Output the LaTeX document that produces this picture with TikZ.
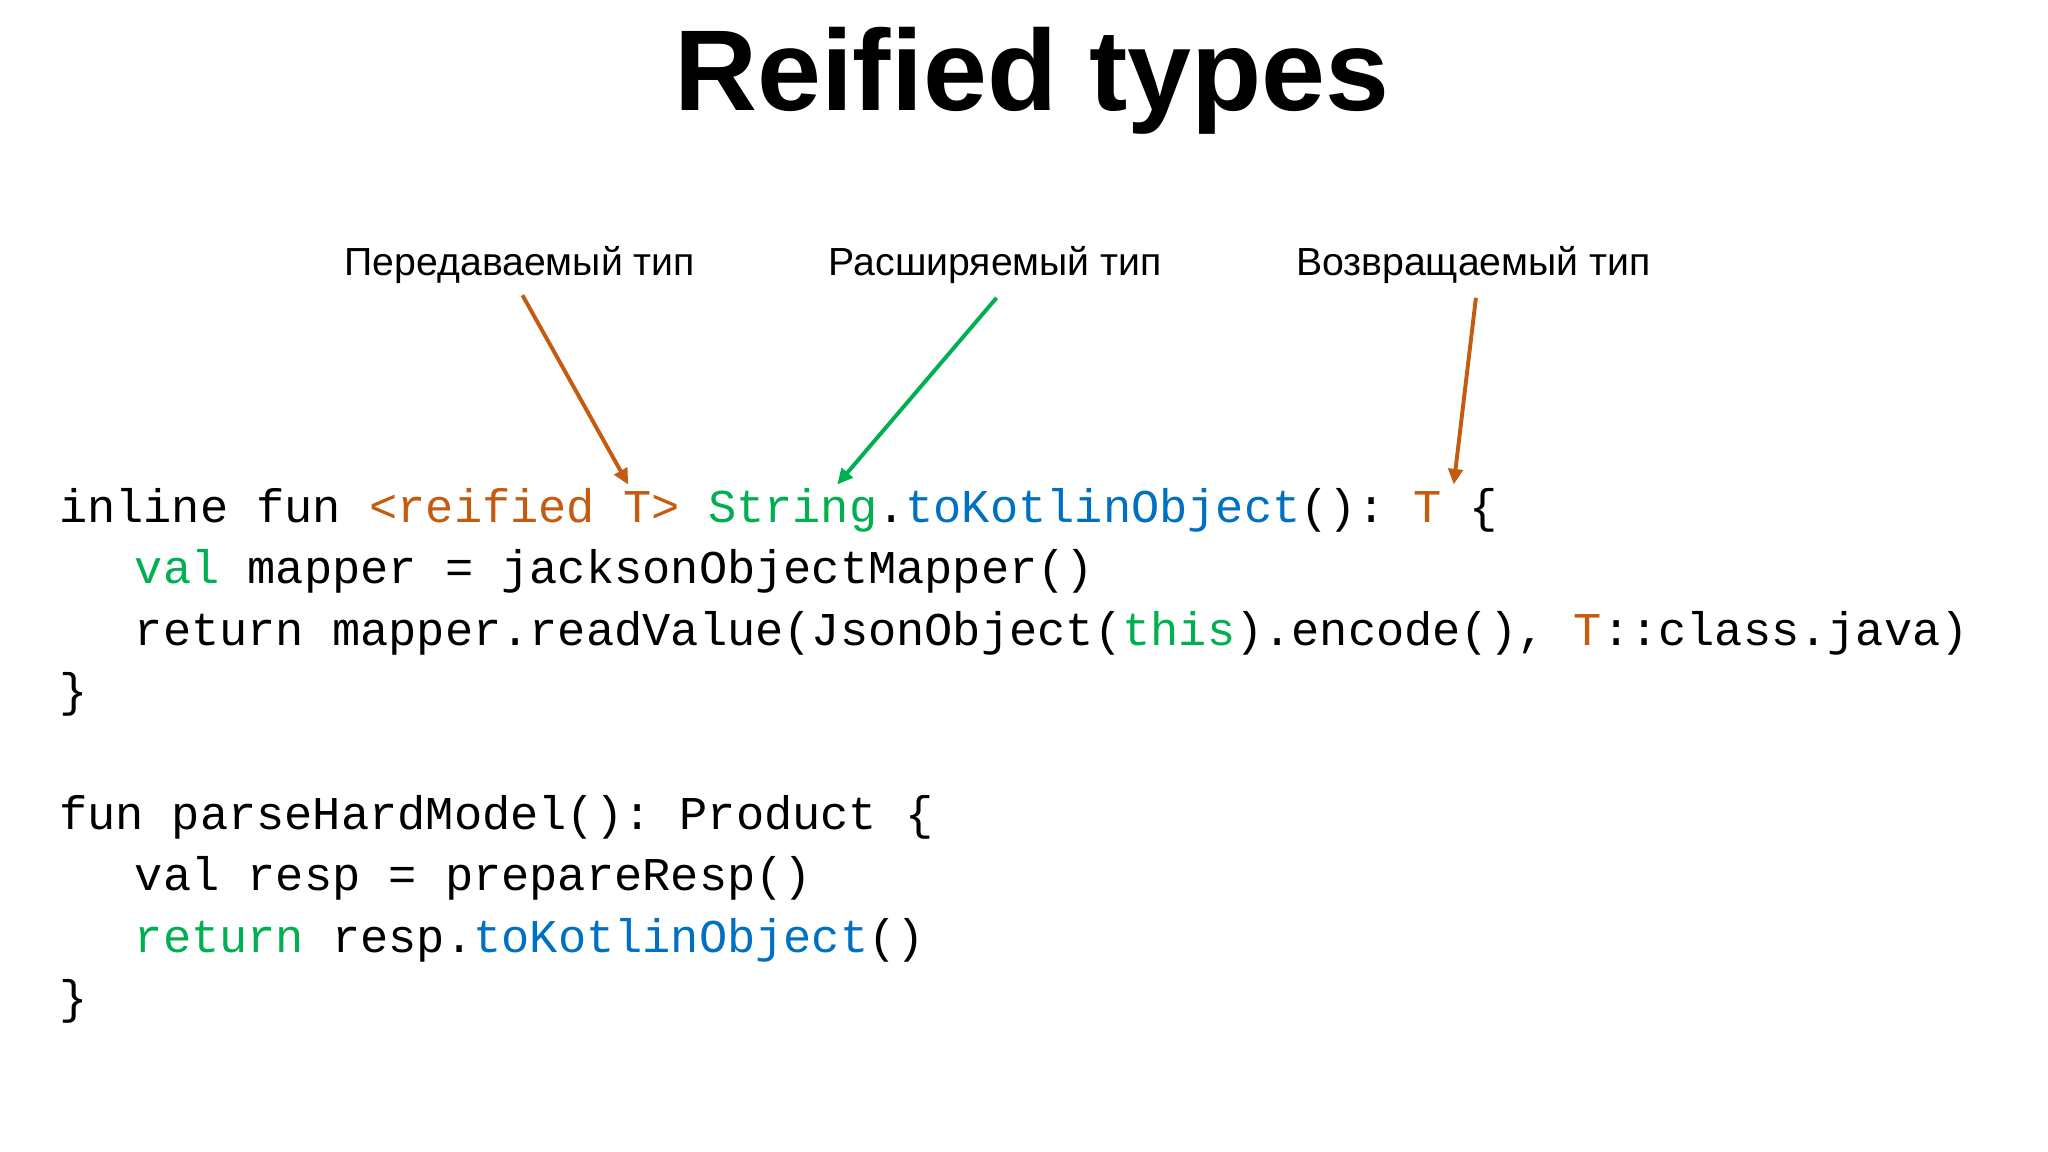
\documentclass[tikz,border=0pt]{standalone}
\usepackage{fontspec}
\setmainfont{Liberation Sans}
\setmonofont{Liberation Mono}
\usetikzlibrary{arrows.meta}
\definecolor{kor}{RGB}{197,90,17}
\definecolor{kgr}{RGB}{0,176,80}
\definecolor{kbl}{RGB}{0,112,192}
\begin{document}
\begin{tikzpicture}[x=1pt,y=-1pt,
  code/.style={anchor=base west,inner sep=0pt,font=\fontsize{36}{36}\selectfont\ttfamily},
  lbl/.style={inner sep=0pt,font=\fontsize{30}{30}\selectfont},
  arr/.style={line width=3pt,-{Triangle[length=12pt,width=11pt]}}]
\useasboundingbox (0,0) rectangle (1568,882);
\node[inner sep=0pt,font=\fontsize{88}{88}\selectfont\bfseries] (title) at (790,62) {Reified types};
\node[lbl] (l1) at (398,203) {Передаваемый тип};
\node[lbl] (l2) at (762,203) {Расширяемый тип};
\node[lbl] (l3) at (1128,203) {Возвращаемый тип};
\node[code] (c1) at (45,400) {inline fun \textcolor{kor}{<reified T>} \textcolor{kgr}{String}.\textcolor{kbl}{toKotlinObject}(): \textcolor{kor}{T} \{};
\node[code] (c2) at (103,447) {\textcolor{kgr}{val} mapper = jacksonObjectMapper()};
\node[code] (c3) at (103,494) {return mapper.readValue(JsonObject(\textcolor{kgr}{this}).encode(), \textcolor{kor}{T}::class.java)};
\node[code] (c4) at (45,541) {\}};
\node[code] (d1) at (45,635) {fun parseHardModel(): Product \{};
\node[code] (d2) at (103,682) {val resp = prepareResp()};
\node[code] (d3) at (103,729) {\textcolor{kgr}{return} resp.\textcolor{kbl}{toKotlinObject}()};
\node[code] (d4) at (45,776) {\}};
\coordinate (a1) at (400,226); \coordinate (h1) at (481,371);
\coordinate (a2) at (763,228); \coordinate (h2) at (641,371);
\coordinate (a3) at (1130,228); \coordinate (h3) at (1113,371);
\draw[arr,kor] (a1) -- (h1);
\draw[arr,kgr] (a2) -- (h2);
\draw[arr,kor] (a3) -- (h3);
\end{tikzpicture}
\end{document}
